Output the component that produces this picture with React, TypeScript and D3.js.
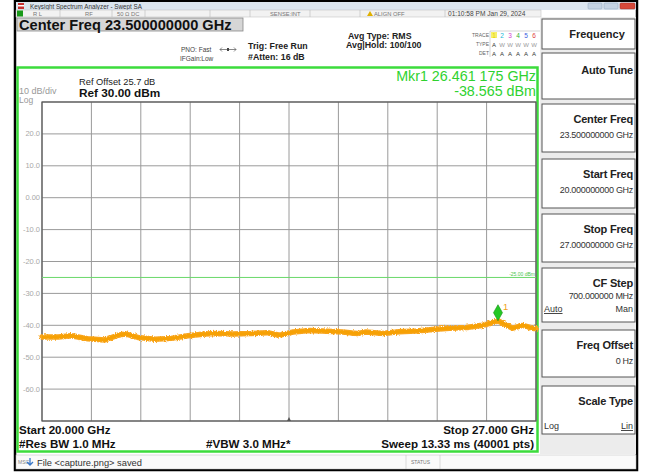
import React from "react";
import * as d3 from "d3";

// trace (GHz, dBm)
const traceFreq = [20.0, 20.23, 20.41, 20.65, 20.89, 21.08, 21.18, 21.36, 21.6, 21.83, 22.07, 22.31, 22.48, 22.71, 22.95, 23.19, 23.37, 23.56, 23.8, 24.04, 24.26, 24.46, 24.59, 24.83, 25.06, 25.3, 25.54, 25.77, 26.01, 26.25, 26.46, 26.67, 26.81, 26.97, 27.0];
const traceDbm = [-43.7, -43.7, -43.3, -44.2, -44.6, -43.1, -42.7, -43.8, -44.4, -44.1, -43.3, -42.7, -42.6, -42.7, -42.6, -42.3, -43.1, -42.1, -41.6, -41.9, -42.1, -42.6, -42.1, -42.6, -42.0, -41.8, -41.3, -40.9, -40.7, -40.0, -38.6, -40.9, -40.0, -41.0, -41.0];

const yTicks = [20, 10, 0, -10, -20, -30, -40, -50, -60];
const yTickLabels = ["20.0", "10.0", "0.00", "-10.0", "-20.0", "-30.0", "-40.0", "-50.0", "-60.0"];
const marker = { freq: 26.461175, dbm: -38.565 };
const displayLine = -25;

const softkeys = [
  { title: "Auto Tune", y0: 53, y1: 99, value: "", extraL: "", extraR: "" },
  { title: "Center Freq", y0: 104, y1: 152, value: "23.500000000 GHz", extraL: "", extraR: "" },
  { title: "Start Freq", y0: 159, y1: 208, value: "20.000000000 GHz", extraL: "", extraR: "" },
  { title: "Stop Freq", y0: 214, y1: 262, value: "27.000000000 GHz", extraL: "", extraR: "" },
  { title: "CF Step", y0: 268, y1: 322, value: "700.000000 MHz", extraL: "Auto", extraR: "Man" },
  { title: "Freq Offset", y0: 330, y1: 377, value: "0 Hz", extraL: "", extraR: "" },
  { title: "Scale Type", y0: 386, y1: 434, value: "", extraL: "Log", extraR: "Lin" },
];

const traceColors = ["#e8d000", "#20b8d8", "#d040d0", "#30b030", "#4060e0", "#e04040"];

const F = "'Liberation Sans', Arial, sans-serif";

export default function App() {
  const x = d3.scaleLinear().domain([20, 27]).range([42, 536]);
  const y = d3.scaleLinear().domain([30, -70]).range([102, 421]);
  const pts = traceFreq.map((f, i) => [x(f), y(traceDbm[i])] as [number, number]);
  const line = d3.line().curve(d3.curveLinear)(pts) || "";
  const xGrid = d3.range(0, 11).map((i) => 20 + (i * 7) / 10);
  const yGrid = d3.range(0, 11).map((i) => 30 - i * 10);
  const mx = x(marker.freq);
  const my = y(marker.dbm) - 8;

  return (
    <svg width={651} height={472} style={{ position: "absolute", left: 0, top: 0, fontFamily: F }}>
      <defs>
        <filter id="noise" x="-5%" y="-50%" width="110%" height="200%">
          <feTurbulence type="fractalNoise" baseFrequency="0.9 0.6" numOctaves={2} seed={3} result="t" />
          <feDisplacementMap in="SourceGraphic" in2="t" scale={3.5} xChannelSelector="R" yChannelSelector="G" />
        </filter>
      </defs>
      <rect width={651} height={472} fill="#fff" />
      {/* outer frame */}
      <rect x={15} y={1} width={622} height={469} fill="#fff" stroke="#000" strokeWidth={2.5} />
      {/* title bar */}
      <rect x={16} y={2} width={620} height={8} fill="#dbe5ef" />
      <rect x={18} y={3} width={6} height={6} fill="#c83030" />
      <rect x={18} y={5} width={6} height={1.5} fill="#fff" />
      <text x={30} y={8.5} fontSize={6.3} fill="#333">Keysight Spectrum Analyzer - Swept SA</text>
      <rect x={588} y={3} width={14} height={6} rx={1} fill="#c4d2e2" stroke="#8fa4bc" strokeWidth={0.5} />
      <rect x={604} y={3} width={14} height={6} rx={1} fill="#c4d2e2" stroke="#8fa4bc" strokeWidth={0.5} />
      <rect x={620} y={3} width={15} height={6} rx={1} fill="#d6483a" stroke="#a02c20" strokeWidth={0.5} />
      {/* status row */}
      <rect x={16} y={10} width={525} height={7} fill="#f2f2f2" stroke="#bbb" strokeWidth={0.5} />
      <rect x={17} y={10.5} width={6} height={6} fill="#1a9a1a" />
      {[60, 112, 145, 210, 250, 310, 360, 445].map((v) => (
        <line key={v} x1={v} x2={v} y1={10} y2={17} stroke="#bbb" strokeWidth={0.6} />
      ))}
      <g fontSize={5.8} fill="#777">
        <text x={33} y={15.8}>R L</text>
        <text x={85} y={15.8}>RF</text>
        <text x={117} y={15.8}>50 Ω   DC</text>
        <text x={270} y={15.8}>SENSE:INT</text>
        <text x={374} y={15.8}>ALIGN OFF</text>
        <text x={448} y={15.8} fontSize={6.6} fill="#444">01:10:58 PM Jan 29, 2024</text>
      </g>
      <path d="M367,16 L370,11 L373,16 Z" fill="#e0b000" />
      {/* center freq box */}
      <rect x={17} y={18} width={226} height={13} fill="#d6d6d6" stroke="#888" strokeWidth={0.8} />
      <text x={19} y={29.8} fontSize={14.6} fontWeight="bold" fill="#111">Center Freq 23.500000000 GHz</text>
      {/* header settings */}
      <g fontSize={6.5} fill="#444">
        <text x={181} y={52}>PNO: Fast</text>
        <text x={180} y={61}>IFGain:Low</text>
      </g>
      <path d="M220,49.5 L236,49.5 M222,47.5 L220,49.5 L222,51.5 M234,47.5 L236,49.5 L234,51.5" stroke="#555" strokeWidth={0.7} fill="none" />
      <rect x={227} y={48} width={2} height={3} fill="#444" />
      <g fontSize={8.8} fontWeight="bold" fill="#222">
        <text x={248} y={49}>Trig: Free Run</text>
        <text x={248} y={59.5}>#Atten: 16 dB</text>
        <text x={348} y={39}>Avg Type: RMS</text>
        <text x={346} y={48}>Avg|Hold: 100/100</text>
      </g>
      <g fontSize={5} fill="#666">
        <text x={489} y={37} textAnchor="end">TRACE</text>
        <text x={489} y={46} textAnchor="end">TYPE</text>
        <text x={489} y={55} textAnchor="end">DET</text>
      </g>
      <line x1={490} x2={490} y1={31} y2={57} stroke="#aaa" strokeWidth={0.5} />
      <line x1={490} x2={540} y1={31} y2={31} stroke="#aaa" strokeWidth={0.5} />
      {traceColors.map((c, i) => (
        <g key={i}>
          {i === 0 && <rect x={491} y={32} width={6} height={6} fill="#f6f06a" />}
          <text x={494 + i * 8} y={37.5} fontSize={6.5} textAnchor="middle" fill={c}>{i + 1}</text>
          <text x={494 + i * 8} y={46.5} fontSize={6} textAnchor="middle" fill={i === 0 ? "#333" : "#999"}>{i === 0 ? "A" : "W"}</text>
          <text x={494 + i * 8} y={55.5} fontSize={6} textAnchor="middle" fill="#333">A</text>
        </g>
      ))}
      {/* green graticule frame */}
      <rect x={17.5} y={67.5} width={520} height={384} fill="none" stroke="#3cdc3c" strokeWidth={2.5} />
      {/* grid */}
      <g stroke="#9a9a9a" strokeWidth={1}>
        {xGrid.map((f) => (
          <line key={"x" + f} x1={x(f)} x2={x(f)} y1={y(30)} y2={y(-70)} />
        ))}
        {yGrid.map((v) => (
          <line key={"y" + v} x1={x(20)} x2={x(27)} y1={y(v)} y2={y(v)} />
        ))}
      </g>
      <rect x={x(20)} y={y(30)} width={x(27) - x(20)} height={y(-70) - y(30)} fill="none" stroke="#555" strokeWidth={1.2} />
      <path d={`M${x(23.5) - 2},${y(-70)} L${x(23.5)},${y(-70) - 4} L${x(23.5) + 2},${y(-70)} Z`} fill="#555" />
      {/* y tick labels */}
      <g fontSize={7.5} fill="#a8a8a8" textAnchor="end">
        {yTicks.map((v, i) => (
          <text key={v} x={40} y={y(v) + 2.5}>{yTickLabels[i]}</text>
        ))}
      </g>
      {/* ref texts */}
      <text x={19} y={94} fontSize={9} fill="#999">10 dB/div</text>
      <text x={19} y={103} fontSize={8.5} fill="#999">Log</text>
      <text x={79} y={85} fontSize={9.3} fill="#222">Ref Offset 25.7 dB</text>
      <text x={79} y={97} fontSize={11.8} fontWeight="bold" fill="#111">Ref 30.00 dBm</text>
      <text x={536} y={81} fontSize={14.3} textAnchor="end" fill="#2fd22f">Mkr1 26.461 175 GHz</text>
      <text x={536} y={96} fontSize={14.3} textAnchor="end" fill="#2fd22f">-38.565 dBm</text>
      {/* display line */}
      <line x1={x(20)} x2={x(27)} y1={y(displayLine)} y2={y(displayLine)} stroke="#6ad86a" strokeWidth={1} />
      <text x={535} y={y(displayLine) - 1.5} fontSize={5} textAnchor="end" fill="#4cc44c">-25.00 dBm</text>
      {/* trace */}
      <g filter="url(#noise)">
        <path d={line} fill="none" stroke="#f9a51e" strokeWidth={5.5} strokeLinejoin="round" strokeLinecap="round" />
      </g>
      <path d={line} fill="none" stroke="#f6a104" strokeWidth={3} strokeLinejoin="round" />
      {/* marker */}
      <path d={`M${mx},${my - 8} L${mx + 4.5},${my} L${mx},${my + 8} L${mx - 4.5},${my} Z`} fill="#24c824" stroke="#169016" strokeWidth={0.6} />
      <text x={mx + 5} y={my - 3} fontSize={9.5} fill="#f0a020">1</text>
      {/* bottom annotation */}
      <g fontSize={11.6} fontWeight="bold" fill="#111">
        <text x={19} y={433.5}>Start 20.000 GHz</text>
        <text x={19} y={447.5}>#Res BW 1.0 MHz</text>
        <text x={206} y={447.5}>#VBW 3.0 MHz*</text>
        <text x={534} y={433.5} textAnchor="end">Stop 27.000 GHz</text>
        <text x={534} y={447.5} textAnchor="end">Sweep  13.33 ms (40001 pts)</text>
      </g>
      {/* message bar */}
      <rect x={16} y={455} width={620} height={14} fill="#fafafa" stroke="#bbb" strokeWidth={0.5} />
      <text x={18} y={464} fontSize={5} fill="#888">MSG</text>
      <path d="M30,458 L30,465 M27,462 L30,465 L33,462" stroke="#3a78c8" strokeWidth={1.3} fill="none" />
      <text x={37} y={465.5} fontSize={9.3} fill="#333">File &lt;capture.png&gt; saved</text>
      <line x1={406} x2={406} y1={455} y2={469} stroke="#bbb" strokeWidth={0.5} />
      <line x1={440} x2={440} y1={455} y2={469} stroke="#bbb" strokeWidth={0.5} />
      <text x={411} y={464} fontSize={5} fill="#777">STATUS</text>
      {/* softkey panel */}
      <rect x={540} y={17} width={96} height={437} fill="#ececec" />
      <rect x={542} y={19} width={93} height={30} fill="#fff" stroke="#555" strokeWidth={1} />
      <text x={597} y={37.5} fontSize={11} fontWeight="bold" textAnchor="middle" fill="#222">Frequency</text>
      {softkeys.map((k) => (
        <g key={k.title}>
          <rect x={542} y={k.y0} width={93} height={k.y1 - k.y0} fill="#fff" stroke="#555" strokeWidth={1} />
          <text x={633} y={k.value || k.extraL ? k.y0 + 19 : k.y0 + 21} fontSize={11} fontWeight="bold" textAnchor="end" fill="#222" letterSpacing={-0.2}>{k.title}</text>
          {k.value && (
            <text x={633} y={k.y0 + (k.extraL ? 31 : 34)} fontSize={9} textAnchor="end" fill="#333" letterSpacing={-0.3}>{k.value}</text>
          )}
          {k.extraL && (
            <>
              <text x={544} y={k.y0 + (k.value ? 44 : 43)} fontSize={9} fill="#333" textDecoration={k.extraL === "Auto" ? "underline" : undefined}>{k.extraL}</text>
              <text x={633} y={k.y0 + (k.value ? 44 : 43)} fontSize={9} textAnchor="end" fill="#333" textDecoration={k.extraR === "Lin" ? "underline" : undefined}>{k.extraR}</text>
            </>
          )}
        </g>
      ))}
    </svg>
  );
}
